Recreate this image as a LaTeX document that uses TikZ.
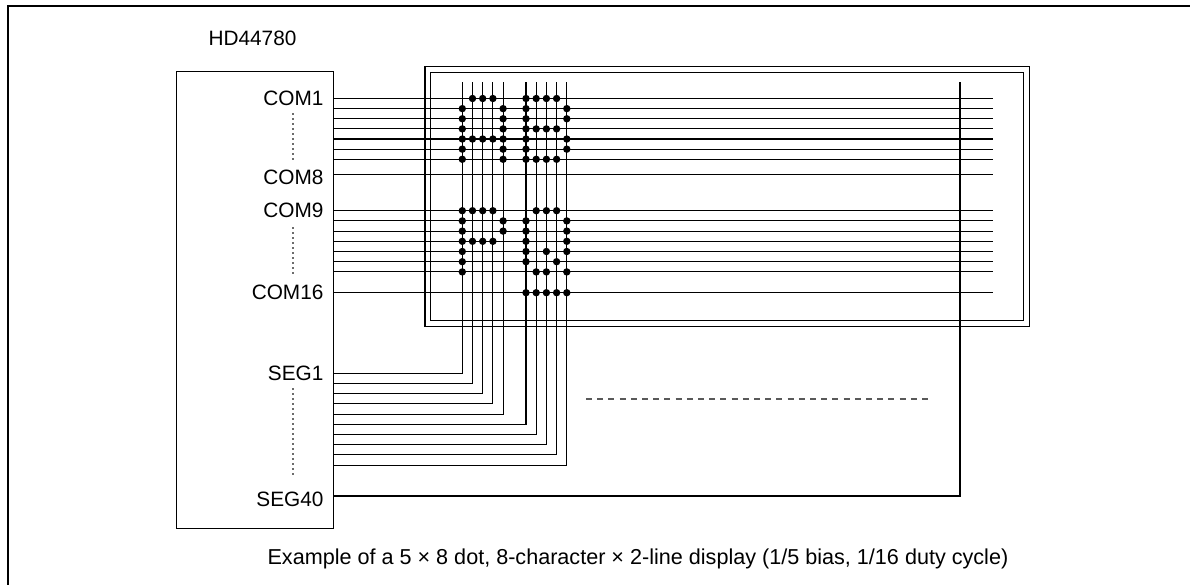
\documentclass[tikz,border=0pt]{standalone}
\usepackage{fontspec}
\setmainfont{Liberation Sans}
\begin{document}
\begin{tikzpicture}[x=0.5pt,y=-0.5pt,line width=0.55pt,
  lbl/.style={font=\fontsize{10.4}{12}\selectfont,inner sep=0pt,anchor=east},
  txt/.style={font=\fontsize{10.4}{12}\selectfont,inner sep=0pt,anchor=base west},
  captxt/.style={font=\fontsize{10.8}{13}\selectfont,inner sep=0pt,anchor=base west},
  chipbox/.style={draw,minimum width=78.5pt,minimum height=228.5pt,inner sep=0pt,anchor=north west},
  pinlead/.style={dash pattern=on 1pt off 1.5pt,draw=gray!85!black,line width=0.7pt},
  dashsep/.style={dash pattern=on 3pt off 2.6pt,draw=gray!70!black},
  pix/.style={fill=black}]
\useasboundingbox (0,0) rectangle (1190,585);
% page frame (top and left edges)
\draw (1190,6) -- (8,6) -- (8,585);
% controller
\node[chipbox] (chip) at (176,71) {};
\node[txt] (title) at (208,45) {HD44780};
% display frames
\draw (425,66.7) rectangle (1029.3,326.7);
\draw (430.7,72.3) rectangle (1023.3,320.5);
% coordinates
\coordinate (re) at (993,0);
\foreach \i in {1,...,5} {
  \coordinate (a\i) at ({462.3+(\i-1)*10.2},81.7);
  \coordinate (b\i) at ({526+(\i-1)*10.2},81.7);
}
\foreach \j in {1,...,7} {
  \coordinate (u\j) at (333,{98.5+(\j-1)*10.13});
  \coordinate (l\j) at (333,{210.7+(\j-1)*10.2});
}
\coordinate (u8) at (333,174.5);
\coordinate (l8) at (333,292.7);
\foreach \k in {1,...,10} {
  \coordinate (s\k) at (333,{373.3+(\k-1)*10.2});
}
\coordinate (s40) at (333,496);
\coordinate (rv) at (960,81.7);
% common lines
\foreach \j in {1,...,8} {
  \draw (u\j) -- (u\j -| re);
  \draw (l\j) -- (l\j -| re);
}
% segment lines
\foreach \k in {1,...,5} {
  \draw (s\k) -| (a\k);
}
\foreach \k [evaluate=\k as \m using int(\k+5)] in {1,...,5} {
  \draw (s\m) -| (b\k);
}
\draw (s40) -| (rv);
% labels
\node[lbl] (lc1) at (324,98.5) {COM1};
\node[lbl] (lc8) at (324,177.5) {COM8};
\node[lbl] (lc9) at (324,210.7) {COM9};
\node[lbl] (lc16) at (324,292.4) {COM16};
\node[lbl] (ls1) at (324,373.8) {SEG1};
\node[lbl] (ls40) at (324,499.5) {SEG40};
\draw[pinlead] (293,113) -- (293,163);
\draw[pinlead] (293,227) -- (293,276);
\draw[pinlead] (293,388) -- (293,478);
% dashed ellipsis
\coordinate (d1) at (586,399);
\coordinate (d2) at (932,399);
\draw[dashsep] (d1) -- (d2);
% dots: A
\foreach \c/\r in {2/1,3/1,4/1,1/2,5/2,1/3,5/3,1/4,5/4,1/5,2/5,3/5,4/5,5/5,1/6,5/6,1/7,5/7}
  \fill[pix] (a\c |- u\r) circle (1.85pt);
% B
\foreach \c/\r in {1/1,2/1,3/1,4/1,1/2,5/2,1/3,5/3,1/4,2/4,3/4,4/4,1/5,5/5,1/6,5/6,1/7,2/7,3/7,4/7}
  \fill[pix] (b\c |- u\r) circle (1.85pt);
% P
\foreach \c/\r in {1/1,2/1,3/1,4/1,1/2,5/2,1/3,5/3,1/4,2/4,3/4,4/4,1/5,1/6,1/7}
  \fill[pix] (a\c |- l\r) circle (1.85pt);
% Q with cursor
\foreach \c/\r in {2/1,3/1,4/1,1/2,5/2,1/3,5/3,1/4,5/4,1/5,3/5,5/5,1/6,4/6,2/7,3/7,5/7,1/8,2/8,3/8,4/8,5/8}
  \fill[pix] (b\c |- l\r) circle (1.85pt);
% caption
\node[captxt] (cap) at (267,564) {Example of a 5 × 8 dot, 8-character × 2-line display (1/5 bias, 1/16 duty cycle)};
\end{tikzpicture}
\end{document}
